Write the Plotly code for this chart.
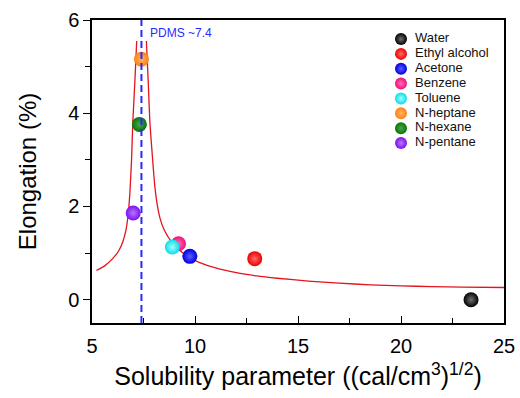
import plotly.graph_objects as go

# Solvents: solubility parameter (cal/cm^3)^1/2 and measured elongation (%)
solvents = ["Water", "Ethyl alcohol", "Acetone", "Benzene",
            "Toluene", "N-heptane", "N-hexane", "N-pentane"]
solubility = [23.4, 12.9, 9.75, 9.2, 8.9, 7.4, 7.3, 7.0]
elongation = [0.0, 0.88, 0.93, 1.20, 1.13, 5.16, 3.76, 1.86]

# Fitted swelling curve (two branches around the PDMS peak)
fit_left_x = [5.22, 5.6, 6.0, 6.3, 6.5, 6.65, 6.76, 6.84, 6.92, 6.98, 7.08, 7.17]
fit_left_y = [0.63, 0.72, 0.88, 1.05, 1.25, 1.5, 1.85, 2.3, 3.0, 3.8, 4.67, 5.55]
fit_right_x = [7.64, 7.73, 7.81, 7.92, 8.05, 8.18, 8.3, 8.5, 8.86, 9.2, 9.67,
               10.2, 11.0, 12.0, 13.0, 14.0, 15.5, 17.0, 18.5, 20.0, 21.5, 23.0, 25.0]
fit_right_y = [5.55, 4.67, 3.8, 3.14, 2.43, 2.0, 1.75, 1.5, 1.24, 1.08, 0.92,
               0.80, 0.68, 0.58, 0.51, 0.46, 0.40, 0.355, 0.32, 0.297, 0.28, 0.27, 0.262]

PDMS_DELTA = 7.4

# marker colour (edge) and highlight colour (centre) for each solvent
edge_colors = ["#000000", "#ee0000", "#0000e0", "#f0107c",
               "#0cdce6", "#ff8010", "#087408", "#7e10f0"]
center_colors = ["#707070", "#ff6a6a", "#5a5aff", "#ff6cb2",
                 "#a0ffff", "#ffb466", "#48a848", "#b478ff"]

FONT = "Liberation Sans, Arial, sans-serif"

fig = go.Figure()

fig.add_trace(go.Scatter(
    x=fit_left_x + [None] + fit_right_x,
    y=fit_left_y + [None] + fit_right_y,
    mode="lines", line=dict(color="#e3141c", width=1.3, shape="spline", smoothing=0.5),
    connectgaps=False, showlegend=False, hoverinfo="skip"))

for name, sx, ey, ec, cc in zip(solvents, solubility, elongation, edge_colors, center_colors):
    fig.add_trace(go.Scatter(
        x=[sx], y=[ey], mode="markers", name=name, showlegend=False,
        marker=dict(size=15, color=ec, line=dict(width=0),
                    gradient=dict(type="radial", color=cc))))

# Compact legend drawn on an overlay axis (one row per solvent)
rows = list(range(len(solvents)))
fig.add_trace(go.Scatter(
    x=[0.750] * len(rows), y=rows, xaxis="x2", yaxis="y2", mode="markers",
    marker=dict(size=12, color=edge_colors, line=dict(width=0),
                gradient=dict(type="radial", color=center_colors)),
    showlegend=False, hoverinfo="skip"))
fig.add_trace(go.Scatter(
    x=[0.784] * len(rows), y=rows, xaxis="x2", yaxis="y2", mode="text",
    text=solvents, textposition="middle right",
    textfont=dict(family=FONT, size=13, color="#111111"),
    showlegend=False, hoverinfo="skip"))

fig.add_vline(x=PDMS_DELTA, line=dict(color="#2a2aff", width=2, dash="7px,4px"))
fig.add_annotation(x=PDMS_DELTA, y=0.957, xref="x", yref="paper",
                   text=f"PDMS ~{PDMS_DELTA}", showarrow=False,
                   xanchor="left", yanchor="middle", xshift=7,
                   font=dict(family=FONT, size=12, color="#2a2aff"))

axis_common = dict(showline=True, linecolor="black", linewidth=1.5, mirror=True,
                   showgrid=False, zeroline=False, automargin=False,
                   tickfont=dict(family=FONT, size=20, color="black"),
                   ticklen=7, tickwidth=1.3, tickcolor="black")

fig.update_layout(
    width=520, height=398,
    margin=dict(l=92, r=16, t=20, b=75),
    paper_bgcolor="white", plot_bgcolor="white",
    font=dict(family=FONT, color="black"),
    xaxis=dict(range=[5, 25], tickvals=[5, 10, 15, 20, 25], ticks="inside",
               ticklabelstandoff=4,
               minor=dict(tickvals=[7.5, 12.5, 17.5, 22.5], ticks="inside",
                          ticklen=5, tickwidth=1.2, tickcolor="black"),
               title=dict(text="Solubility parameter ((cal/cm<sup>3</sup>)<sup>1/2</sup>)",
                          font=dict(family=FONT, size=25, color="black"), standoff=12),
               **axis_common),
    yaxis=dict(range=[-0.5, 6], tickvals=[0, 2, 4, 6], ticks="outside",
               minor=dict(tickvals=[1, 3, 5], ticks="outside",
                          ticklen=5, tickwidth=1.2, tickcolor="black"),
               title=dict(text="Elongation (%)",
                          font=dict(family=FONT, size=24, color="black"), standoff=25),
               **axis_common),
    xaxis2=dict(overlaying="x", anchor="y2", range=[0, 1], visible=False),
    yaxis2=dict(overlaying="y", anchor="x2", range=[19.11, -1.28], visible=False),
    showlegend=False,
)

fig.write_html("out.html")
